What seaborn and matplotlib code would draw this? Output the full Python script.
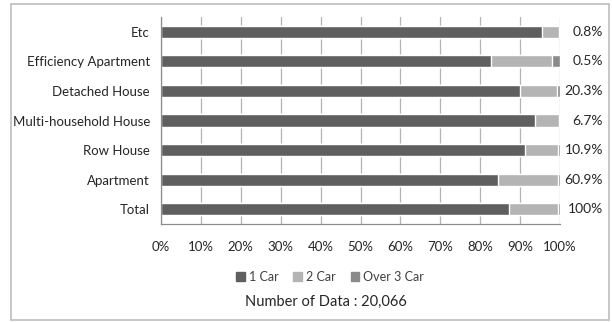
import matplotlib
matplotlib.use("Agg")
import matplotlib.pyplot as plt
import matplotlib.patches as mpatches
import matplotlib.transforms as mtransforms
import numpy as np
import pandas as pd
import seaborn as sns

# Housing types (top to bottom) and car ownership shares in percent
housing = ["Etc", "Efficiency Apartment", "Detached House", "Multi-household House",
           "Row House", "Apartment", "Total"]
one_car = [95.6, 82.8, 90.0, 93.7, 91.2, 84.5, 87.3]
two_car = [4.2, 15.3, 9.3, 6.0, 8.4, 15.1, 12.3]
over_three = [0.2, 1.9, 0.7, 0.3, 0.4, 0.4, 0.4]
share_labels = ["0.8%", "0.5%", "20.3%", "6.7%", "10.9%", "60.9%", "100%"]
series_names = ["1 Car", "2 Car", "Over 3 Car"]
colors = ["#5f5f5f", "#b4b4b4", "#8a8a8a"]
data_count = "Number of Data : 20,066"

sns.set_theme(style="white")
plt.rcParams["font.family"] = ["Lato", "DejaVu Sans"]

df = pd.DataFrame({"housing": housing, "1 Car": one_car,
                   "2 Car": two_car, "Over 3 Car": over_three})
# cumulative right edges for stacking
cum = df[series_names].cumsum(axis=1)

fig = plt.figure(figsize=(6.12, 3.22), dpi=100)
ax = fig.add_axes([161 / 612, 1 - 224 / 322, (560 - 161) / 612, (224 - 17) / 322])

# draw the widest stack first, narrower ones on top
for name, col in reversed(list(zip(series_names, colors))):
    sns.barplot(data=cum.assign(housing=housing), x=name, y="housing", order=housing,
                color=col, width=0.41, saturation=1, ax=ax, label=name, orient="h")

ax.set_xlim(0, 100)
ax.set_xticks(np.arange(0, 101, 10))
ax.set_xticklabels([f"{v}%" for v in range(0, 101, 10)], fontsize=9.5, color="#262626")
ax.tick_params(axis="y", labelsize=9.5, labelcolor="#262626", length=0, pad=8)
ax.set_xlabel("")
ax.set_ylabel("")
ax.set_axisbelow(True)
ax.grid(axis="x", color="#b3b3b3", linewidth=0.9)
for s in ["top", "right"]:
    ax.spines[s].set_visible(False)
for s in ["left", "bottom"]:
    ax.spines[s].set_color("#8c8c8c")
    ax.spines[s].set_linewidth(0.9)

# minor ticks at category boundaries on the y axis, outward ticks on x
ax.set_yticks(np.arange(-0.5, len(housing), 1), minor=True)
ax.tick_params(axis="y", which="minor", length=4, color="#8c8c8c", direction="out")
ax.tick_params(axis="x", which="major", length=4, color="#8c8c8c", direction="out", pad=8)

# share of each housing type on the right
trans = mtransforms.blended_transform_factory(fig.transFigure, ax.transData)
for i, lab in enumerate(share_labels):
    ax.text(603 / 612, i, lab, transform=trans, ha="right", va="center",
            fontsize=10, color="#262626")

# legend in display order
handles = [mpatches.Patch(color=c, label=n) for n, c in zip(series_names, colors)]
if ax.get_legend() is not None:
    ax.get_legend().remove()
fig.legend(handles=handles, loc="center", bbox_to_anchor=(330 / 612, 1 - 277 / 322),
           ncol=3, frameon=False, fontsize=9, handlelength=0.7, handleheight=0.7,
           handletextpad=0.3, columnspacing=1.2, labelcolor="#404040")

fig.text(326 / 612, 1 - 302 / 322, data_count, ha="center", va="center",
         fontsize=10.5, color="#262626")

# outer chart frame
fig.patches.append(mpatches.Rectangle((11 / 612, 1 - 320 / 322), 598 / 612, 316 / 322,
                                      transform=fig.transFigure, fill=False,
                                      edgecolor="#bdbdbd", linewidth=1.2))

fig.savefig("out.png", dpi=100)
